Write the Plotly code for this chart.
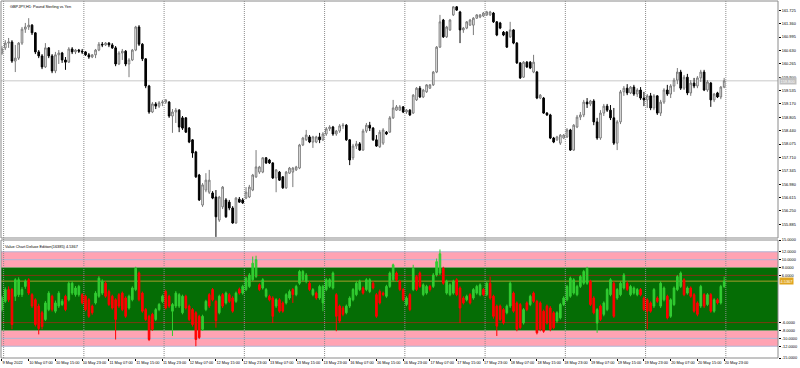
import plotly.graph_objects as go

# ---------------- main price data (GBPJPY H1) ----------------
open_ = [
160.56,160.70,160.83,160.86,160.34,160.42,160.83,161.21,161.27,161.32,
161.11,160.59,160.48,160.18,160.70,160.48,160.07,160.51,160.56,160.37,
160.31,160.67,160.59,160.64,160.61,160.59,160.51,160.45,160.51,160.64,
160.80,160.78,160.83,160.78,160.70,160.26,160.56,160.61,160.26,160.37,
160.64,161.27,160.80,160.40,159.66,158.95,159.17,159.11,159.20,159.22,
159.22,158.84,158.95,159.00,158.79,158.79,158.51,158.19,157.86,157.23,
156.41,156.82,156.76,156.74,156.63,156.00,156.36,156.55,156.49,156.33,
155.92,156.57,156.55,156.60,156.63,156.82,157.18,157.31,157.31,157.70,
157.64,157.56,157.15,157.31,157.18,156.88,157.28,157.31,157.37,157.42,
158.05,158.19,158.27,158.13,158.13,158.27,158.19,158.35,158.49,158.54,
158.35,158.43,158.57,158.59,158.19,157.70,158.02,158.08,157.91,158.43,
158.59,158.51,158.19,158.00,158.10,158.40,158.40,158.79,159.00,159.00,
159.09,158.95,159.00,158.92,159.28,159.60,159.36,159.50,159.60,159.69,
160.04,160.72,161.46,161.00,161.19,161.60,161.82,161.68,161.19,161.24,
161.32,161.32,161.51,161.54,161.57,161.60,161.60,161.65,161.41,161.38,
161.13,161.13,161.00,161.19,160.83,160.29,159.90,160.31,160.31,160.04,
160.04,159.33,159.33,158.92,158.87,158.24,158.19,158.10,158.24,158.27,
158.46,157.91,158.54,158.81,158.87,159.22,159.17,159.25,158.68,158.24,
158.92,159.11,159.00,158.79,158.10,158.68,159.50,159.60,159.47,159.63,
159.44,159.55,159.33,159.28,159.39,159.06,159.39,158.92,159.22,159.55,
159.44,159.66,159.82,160.04,159.60,159.90,159.47,159.74,159.66,159.88,
160.04,159.55,159.74,159.28,159.47,159.36,159.63]
high = [
160.75,160.91,160.97,160.91,160.78,160.86,161.27,161.38,161.51,161.35,
161.13,160.64,160.53,160.83,160.72,160.53,160.59,160.64,160.59,160.45,
160.72,160.72,160.67,160.67,160.67,160.61,160.56,160.53,160.67,160.86,
160.86,160.86,160.86,160.83,160.75,160.61,160.67,160.64,160.42,160.67,
161.30,161.32,160.83,160.42,159.69,159.22,159.22,159.25,159.28,159.30,
159.25,159.03,159.06,159.03,158.84,158.81,158.54,158.21,157.89,157.26,
157.01,157.28,157.37,156.79,156.82,156.66,156.93,156.60,156.55,156.38,
156.63,156.63,156.60,156.90,156.96,157.26,157.91,157.48,157.72,157.72,
157.67,157.58,157.39,157.34,157.20,157.34,157.45,157.45,157.48,158.08,
158.27,158.46,158.32,158.30,158.30,158.38,158.40,158.54,158.59,158.57,
158.46,158.62,158.65,158.62,158.21,158.08,158.16,158.13,158.49,158.65,
158.68,158.54,158.32,158.46,158.51,158.43,158.84,159.28,159.14,159.14,
159.11,159.03,159.03,159.44,159.63,159.66,159.58,159.71,159.71,160.07,
160.75,161.60,161.49,161.30,161.49,161.84,161.84,161.71,161.27,161.43,
161.49,161.54,161.62,161.62,161.68,161.71,161.71,161.68,161.43,161.41,
161.16,161.16,161.41,161.21,160.86,160.31,160.34,160.34,160.34,160.51,
160.07,159.44,159.36,158.95,158.90,158.27,158.30,158.35,158.35,158.51,
158.49,158.62,158.87,158.95,159.28,159.33,159.28,159.30,158.79,159.00,
159.17,159.17,159.14,159.06,158.73,159.55,159.66,159.71,159.66,159.69,
159.60,159.63,159.50,159.44,159.47,159.44,159.41,159.28,159.60,159.69,
159.71,159.88,160.15,160.10,159.96,159.99,159.82,159.88,159.93,160.10,
160.10,159.82,159.77,159.47,159.50,159.66,159.88]
low = [
160.51,160.64,160.70,160.29,160.04,160.37,160.78,161.11,161.19,161.05,
160.53,160.42,160.12,160.15,160.42,160.01,160.01,160.26,160.29,160.10,
160.29,160.53,160.53,160.56,160.53,160.48,160.40,160.42,160.42,160.61,
160.72,160.75,160.72,160.67,160.20,160.23,160.37,160.20,159.90,160.34,
160.61,160.75,160.34,159.60,158.90,158.92,159.03,159.06,159.11,159.17,
158.79,158.38,158.65,158.40,158.46,158.38,158.10,157.70,157.15,156.52,
156.36,156.76,156.71,156.57,155.54,155.95,156.30,156.06,156.27,155.90,
155.90,156.47,156.44,156.57,156.60,156.79,157.15,157.26,157.28,157.53,
157.53,157.12,156.76,157.07,156.85,156.85,157.26,156.90,157.34,157.39,
158.02,158.16,158.10,157.97,158.10,158.10,158.16,158.30,158.43,158.30,
158.30,158.38,158.49,158.16,157.50,157.64,157.94,157.89,157.89,158.38,
158.43,158.16,158.00,157.97,158.05,158.32,158.38,158.76,158.98,158.98,
158.92,158.90,158.84,158.90,159.25,159.33,159.33,159.47,159.58,159.66,
160.01,160.70,160.97,160.97,161.16,161.57,161.71,160.83,161.11,161.21,
161.30,161.05,161.49,161.51,161.54,161.57,161.57,161.38,161.02,161.21,
161.02,160.70,160.97,160.80,160.26,159.85,159.88,160.15,160.12,160.01,
159.30,159.30,158.90,158.84,158.21,158.10,158.16,158.05,158.21,158.24,
157.89,157.89,158.51,158.73,158.81,159.06,159.11,158.59,158.19,158.19,
158.84,158.95,158.73,158.05,157.91,158.62,159.39,159.41,159.44,159.39,
159.36,159.28,159.11,159.06,159.00,159.00,158.87,158.84,159.17,159.39,
159.33,159.50,159.71,159.55,159.55,159.41,159.39,159.60,159.60,159.77,
159.52,159.50,159.09,159.22,159.33,159.30,159.60]
close = [
160.67,160.83,160.86,160.34,160.42,160.83,161.21,161.27,161.32,161.11,
160.59,160.48,160.18,160.70,160.48,160.07,160.51,160.56,160.37,160.31,
160.67,160.59,160.64,160.61,160.59,160.51,160.45,160.51,160.64,160.80,
160.78,160.83,160.78,160.70,160.26,160.56,160.61,160.26,160.37,160.64,
161.27,160.80,160.40,159.66,158.95,159.17,159.11,159.20,159.22,159.28,
158.84,158.95,159.00,158.54,158.51,158.40,158.13,157.83,157.18,156.55,
156.96,157.09,157.09,156.60,156.09,156.63,156.90,156.09,156.33,155.92,
156.60,156.49,156.47,156.76,156.90,157.23,157.45,157.45,157.70,157.56,
157.56,157.15,157.37,157.09,156.88,157.31,157.42,157.42,157.45,158.05,
158.24,158.32,158.13,158.27,158.27,158.19,158.35,158.49,158.54,158.35,
158.43,158.57,158.59,158.19,157.64,158.02,158.08,157.91,158.43,158.59,
158.51,158.19,158.02,158.40,158.46,158.35,158.79,159.06,159.09,159.09,
158.95,159.00,158.87,159.41,159.60,159.36,159.55,159.69,159.69,160.04,
160.72,161.41,161.00,161.27,161.46,161.82,161.73,161.19,161.24,161.41,
161.46,161.51,161.60,161.60,161.65,161.68,161.68,161.41,161.05,161.24,
161.05,160.72,161.19,160.83,160.29,159.88,160.31,160.18,160.15,160.31,
159.33,159.41,158.92,158.87,158.24,158.13,158.27,158.32,158.32,158.46,
157.91,158.59,158.81,158.87,159.22,159.17,159.25,158.68,158.24,158.92,
159.11,159.00,158.79,158.10,158.68,159.50,159.60,159.47,159.63,159.44,
159.55,159.33,159.28,159.39,159.06,159.39,158.92,159.22,159.55,159.44,
159.66,159.82,160.04,159.60,159.90,159.47,159.74,159.66,159.88,160.04,
159.55,159.77,159.28,159.44,159.36,159.63,159.80]

# ---------------- Value Chart Deluxe Edition data ----------------
vc_open = [
-2.7,-0.6,2.4,2.4,0.7,1.1,1.1,3.2,4.9,1.1,
-0.2,-1.8,-3.5,-5.2,-2.7,0.7,-3.1,-1.8,-1.4,0.7,
-0.2,1.5,1.1,1.1,1.1,0.7,-0.2,-1.8,-1.0,0.7,
1.5,4.0,1.9,0.7,-0.2,1.1,1.5,0.25,-2.3,-0.2,
2.4,6.6,1.5,-2.7,-4.4,-3.9,-5.2,-2.7,-0.6,1.9,
0.7,-3.1,-1.8,-1.8,-3.5,0.7,-1.8,-2.7,-3.5,-4.4,
-7.7,-2.7,1.1,2.4,-0.6,-3.5,1.1,-1.0,1.1,0.25,
-0.6,2.5,1.5,2.4,3.2,4.9,5.7,3.6,2.8,0.7,
0.7,0.25,-1.8,-0.2,-1.0,-1.0,0.25,2.4,1.1,4.0,
4.9,4.5,4.0,1.1,1.5,0.25,-1.0,2.4,3.2,2.8,
1.1,-1.8,-2.3,-3.5,-1.8,-0.2,1.1,2.4,2.8,2.4,
1.9,4.0,1.1,1.9,1.5,0.7,3.2,4.9,6.6,4.5,
2.4,-1.4,1.1,2.4,5.7,6.6,1.1,1.5,3.2,3.2,
6.1,6.6,7.8,1.5,1.1,1.5,4.9,2.8,0.25,-0.2,
1.1,0.25,1.5,1.1,2.4,1.1,4.0,0.7,-1.8,-1.8,
-2.7,-3.5,-1.8,1.5,-1.0,-1.4,-6.1,-1.0,-1.4,1.5,
-0.6,-1.0,-3.1,-1.8,-2.3,-3.5,-5.6,-4.8,-1.4,-0.2,
0.7,1.5,1.1,3.2,4.0,4.0,4.5,0.25,-6.1,-1.8,
-3.9,-2.7,1.1,4.0,0.25,1.1,2.8,4.0,1.1,1.5,
1.1,2.4,0.25,-0.2,-1.0,-1.8,0.25,-1.8,-0.2,0.7,
-4.4,-1.4,2.4,3.2,4.9,1.5,2.8,1.1,-1.0,-1.8,
1.1,-1.4,1.1,-3.1,-0.2,-1.0,3.2]
vc_high = [
0.8,3.0,3.2,2.8,5.3,5.5,3.0,5.0,5.3,1.5,
0.2,-1.2,-3.0,-0.5,2.0,1.1,-0.4,2.0,0.0,1.1,
4.5,4.5,3.3,3.6,1.5,1.1,0.2,-1.4,2.0,5.8,
5.0,4.5,2.4,1.1,0.2,1.5,1.9,0.7,1.1,3.2,
8.2,7.0,1.9,-2.3,-4.0,-3.5,-2.3,-1.0,1.1,2.4,
1.1,-1.0,2.0,1.5,1.1,1.1,-1.4,-2.3,-3.1,-4.0,
-4.0,-0.2,1.5,2.8,-0.2,1.1,1.5,1.9,1.5,0.7,
1.9,2.9,3.6,5.7,6.6,10.8,11.0,4.0,5.3,2.8,
1.1,0.7,0.2,0.2,-0.6,1.5,2.4,2.8,3.6,7.4,
7.4,6.6,4.5,2.8,1.9,3.6,3.6,5.3,5.3,7.0,
1.5,-1.4,-1.8,-1.4,0.7,2.8,4.5,4.9,3.2,5.3,
5.3,4.5,1.5,2.4,1.9,3.6,7.0,9.0,7.0,4.9,
2.8,0.7,1.5,8.7,6.1,7.0,4.0,3.6,3.6,6.6,
10.3,12.6,8.2,4.9,4.0,4.9,5.3,3.2,0.7,1.1,
1.5,2.8,3.6,4.0,2.8,4.5,5.7,1.1,-1.4,-1.4,
-2.3,-1.4,4.5,1.9,-0.6,-1.0,-2.3,-0.6,1.1,1.9,
-0.2,-0.6,-2.7,-1.4,-1.8,-3.1,-3.1,-1.0,0.7,3.6,
5.7,5.3,3.6,6.1,7.4,8.2,4.9,0.7,-2.3,-1.4,
-0.6,2.8,5.3,4.5,2.8,4.5,6.6,4.5,3.6,3.2,
2.8,2.8,0.7,0.2,-0.6,2.8,0.7,4.5,3.2,1.1,
0.2,3.2,6.1,7.0,5.3,3.2,3.2,1.5,-0.6,3.6,
1.5,1.5,1.5,0.2,0.2,3.6,5.7]
vc_low = [
-3.2,-1.0,-0.8,-7.7,-0.5,0.5,0.5,2.6,1.0,-2.3,
-7.0,-9.0,-7.7,-5.6,-3.1,-3.2,-3.6,-2.3,-1.8,-3.1,
-0.6,1.0,0.6,0.6,-1.4,-3.1,-4.8,-4.0,-1.4,0.3,
1.0,0.3,-1.8,-2.7,-10.3,-2.3,-3.1,-4.8,-2.7,-0.6,
2.0,-0.6,-3.5,-5.6,-10.7,-8.1,-5.6,-3.1,-1.0,-2.7,
-2.3,-9.4,-2.3,-2.3,-3.9,-2.7,-5.6,-7.0,-12.0,-10.2,
-8.1,-3.1,-2.3,-0.6,-7.3,-3.9,-2.3,-1.4,-1.0,-3.5,
-1.0,1.1,1.1,2.0,2.8,4.5,5.3,2.0,2.4,0.3,
-0.6,-6.1,-2.3,-3.5,-3.5,-1.4,-0.2,-1.0,0.7,3.6,
4.5,4.0,2.0,0.7,-0.2,-0.2,-3.1,2.0,2.8,2.4,
-8.2,-6.1,-4.4,-3.9,-2.3,-0.6,0.7,2.0,1.1,2.0,
1.5,2.4,-4.8,-1.4,0.7,0.3,2.8,4.5,4.5,2.0,
-0.6,-1.8,-3.1,2.0,2.0,2.8,0.7,1.1,1.9,2.8,
5.7,6.1,3.6,1.1,0.7,1.1,0.7,-6.1,-1.4,-0.6,
-1.4,-0.2,1.1,0.7,0.7,0.7,-0.2,-5.0,-9.4,-5.6,
-6.5,-3.9,-2.3,-3.5,-8.2,-7.7,-6.5,-3.1,-1.8,-1.0,
-9.0,-8.2,-8.6,-6.5,-8.2,-7.7,-6.1,-5.2,-1.8,-0.6,
0.3,1.1,0.7,2.8,3.6,3.6,-1.8,-3.9,-8.6,-5.6,
-4.4,-3.1,0.7,-4.8,-0.2,0.7,2.4,2.0,0.7,1.1,
0.7,0.7,-3.1,-7.7,-3.5,-2.3,-1.0,-2.3,-0.6,-5.2,
-4.8,-1.8,2.0,2.8,0.7,1.1,0.3,-3.5,-4.4,-2.3,
-2.3,-1.8,-3.5,-3.5,-1.4,-1.4,2.8]
vc_close = [
0.3,2.4,-0.2,-6.5,4.9,4.9,2.4,4.5,1.5,-1.8,
-6.5,-7.5,-7.0,-1.0,1.5,-2.7,-1.0,1.5,-0.6,-2.7,
4.0,4.0,2.8,3.2,-1.0,-2.7,-4.4,-3.5,1.5,5.3,
4.5,0.7,-1.4,-2.3,-5.2,-1.8,-2.7,-4.4,0.7,2.8,
7.8,-0.2,-3.1,-5.2,-10.3,-7.7,-2.7,-1.4,0.7,-2.3,
-1.8,-1.4,1.5,1.1,0.7,-2.3,-5.2,-6.5,-10.3,-9.8,
-4.4,-0.6,-1.8,-0.2,-5.5,0.7,-1.8,1.5,-0.6,-3.1,
1.5,1.5,3.2,5.3,6.1,9.1,10.0,2.4,4.9,2.4,
-0.2,-4.4,-0.2,-3.1,-3.1,1.1,1.9,1.1,3.2,7.0,
7.0,6.1,2.4,2.4,0.25,3.2,3.2,4.9,4.9,6.6,
-4.4,-5.6,-3.9,-1.8,0.25,2.4,4.0,4.5,1.5,4.9,
4.9,2.8,-4.4,-1.0,1.1,3.2,6.6,8.7,4.9,2.4,
-0.2,0.25,-2.7,7.8,2.4,3.2,3.6,3.2,2.4,6.1,
9.5,11.5,4.0,4.5,3.6,4.5,1.1,-2.3,-1.0,0.7,
-1.0,2.4,3.2,3.6,1.1,4.0,0.25,-4.4,-6.9,-5.2,
-6.1,-1.8,4.0,-3.1,-7.7,-7.3,-2.7,-2.7,0.7,-0.6,
-8.6,-7.7,-8.2,-6.1,-7.7,-7.3,-3.5,-1.4,0.25,3.2,
5.3,4.9,3.2,5.7,7.0,7.8,-1.4,-3.5,-2.7,-5.2,
-1.0,2.4,4.9,-4.4,2.4,4.0,6.1,2.4,3.2,2.8,
2.4,1.1,-2.7,-3.1,-3.1,2.4,-0.6,4.0,2.8,-4.8,
-0.2,2.8,5.7,6.6,1.1,2.8,0.7,-3.1,-3.9,3.2,
-1.8,1.1,-3.1,-0.2,-1.0,3.2,4.5367]

# ---------------- axis labels ----------------
time_labels = ["9 May 2022",
 "10 May 07:00","10 May 15:00","10 May 23:00",
 "11 May 07:00","11 May 15:00","11 May 23:00",
 "12 May 07:00","12 May 15:00","12 May 23:00",
 "13 May 07:00","13 May 15:00","13 May 23:00",
 "16 May 07:00","16 May 15:00","16 May 23:00",
 "17 May 07:00","17 May 15:00","17 May 23:00",
 "18 May 07:00","18 May 15:00","18 May 23:00",
 "19 May 07:00","19 May 15:00","19 May 23:00",
 "20 May 07:00","20 May 15:00","20 May 23:00"]
time_label_bars = [0,8,16,24,32,40,48,56,64,72,80,88,96,104,112,120,128,136,144,
                   152,160,168,176,184,192,200,208,216]
day_separator_bars = [0.5,24.5,48.5,72.5,96.5,120.5,144.5,168.5,192.5,216.5]
price_ticks = [161.725,161.360,160.995,160.630,160.265,159.900,159.535,159.170,
               158.805,158.440,158.075,157.710,157.345,156.980,156.615,156.250,155.885]
vc_ticks = [15,12,10,8,6,-6,-8,-10,-12,-15]
vc_band_outer = 12
vc_band_mid = 10
vc_band_inner = 8
vc_level = 6

title_text = "GBPJPY,H1: Pound Sterling vs Yen"
vc_title = "Value Chart Deluxe Edition(16385) 4.5367"

FONT = "Liberation Sans"
FS = 3.9
bars = list(range(len(close)))

fig = go.Figure()
fig.add_trace(go.Candlestick(
    x=bars, open=open_, high=high, low=low, close=close,
    xaxis="x", yaxis="y",
    increasing=dict(line=dict(color="#7a7a7a", width=1), fillcolor="#ffffff"),
    decreasing=dict(line=dict(color="#000000", width=1), fillcolor="#000000"),
    whiskerwidth=0, hoverinfo="skip"))
fig.add_trace(go.Candlestick(
    x=bars, open=vc_open, high=vc_high, low=vc_low, close=vc_close,
    xaxis="x", yaxis="y2",
    increasing=dict(line=dict(color="#32CD32", width=1), fillcolor="#32CD32"),
    decreasing=dict(line=dict(color="#FF0000", width=1), fillcolor="#FF0000"),
    whiskerwidth=0, hoverinfo="skip"))

shapes = []
pink = "#FFA3B3"
dgreen = "#056D05"
shapes.append(dict(type="rect", xref="paper", yref="y2", x0=0, x1=1, y0=vc_band_inner, y1=vc_band_outer,
                   fillcolor=pink, line=dict(width=0), layer="below"))
shapes.append(dict(type="rect", xref="paper", yref="y2", x0=0, x1=1, y0=-vc_band_outer, y1=-vc_band_inner,
                   fillcolor=pink, line=dict(width=0), layer="below"))
shapes.append(dict(type="rect", xref="paper", yref="y2", x0=0, x1=1, y0=-vc_band_inner, y1=vc_band_inner,
                   fillcolor=dgreen, line=dict(width=0), layer="below"))
for lv in [vc_band_outer, vc_band_mid, -vc_band_mid, -vc_band_outer]:
    shapes.append(dict(type="line", xref="paper", yref="y2", x0=0, x1=1, y0=lv, y1=lv,
                       line=dict(color="#AEB6D6", width=1), layer="below"))
for lv in [vc_level, -vc_level]:
    shapes.append(dict(type="line", xref="paper", yref="y2", x0=0, x1=1, y0=lv, y1=lv,
                       line=dict(color="#7B3A12", width=1), layer="below"))
shapes.append(dict(type="line", xref="paper", yref="y2", x0=0, x1=1, y0=vc_close[-1], y1=vc_close[-1],
                   line=dict(color="#A69A2A", width=1), layer="below"))
shapes.append(dict(type="line", xref="paper", yref="y", x0=0, x1=1, y0=close[-1], y1=close[-1],
                   line=dict(color="#C8C8C8", width=1), layer="below"))
for b in day_separator_bars:
    shapes.append(dict(type="line", xref="x", yref="paper", x0=b, x1=b, y0=0, y1=1,
                       line=dict(color="#8c8c8c", width=1, dash="1px,1px"), layer="below"))
for yr in ["y domain", "y2 domain"]:
    shapes.append(dict(type="rect", xref="paper", yref=yr, x0=0, x1=1, y0=0, y1=1,
                       line=dict(color="#8a8a8a", width=1), fillcolor="rgba(0,0,0,0)", layer="above"))

annotations = [
    dict(xref="paper", yref="paper", x=0, y=1, xanchor="left", yanchor="top", xshift=7, yshift=-2,
         text=title_text, showarrow=False, font=dict(family=FONT, size=FS, color="#000")),
    dict(xref="paper", yref="y2 domain", x=0, y=1, xanchor="left", yanchor="top", xshift=2, yshift=-2,
         text=vc_title, showarrow=False, font=dict(family=FONT, size=FS, color="#000")),
    dict(xref="paper", yref="y", x=1, y=close[-1], xanchor="left", yanchor="middle", xshift=1,
         text=f"{close[-1]:.3f}", showarrow=False, bgcolor="#C0C0C0", borderpad=0.5,
         font=dict(family=FONT, size=FS, color="#ffffff")),
    dict(xref="paper", yref="y2", x=1, y=vc_close[-1], xanchor="left", yanchor="middle", xshift=1,
         text=f"{vc_close[-1]:.4f}", showarrow=False, bgcolor="#E0A520", borderpad=0.5,
         font=dict(family=FONT, size=FS, color="#ffffff")),
]

fig.update_layout(
    width=800, height=368,
    margin=dict(l=1, r=22, t=0, b=10, autoexpand=False),
    paper_bgcolor="white", plot_bgcolor="white",
    showlegend=False, hovermode=False,
    shapes=shapes, annotations=annotations,
    xaxis=dict(domain=[0, 1], anchor="y2", range=[-0.28, 232.1],
               tickvals=time_label_bars, ticktext=time_labels, tickangle=0,
               ticks="outside", ticklen=2, tickcolor="#000", tickwidth=1,
               ticklabelposition="outside right", automargin=False,
               tickfont=dict(family=FONT, size=FS, color="#000"),
               showgrid=False, zeroline=False, showline=False,
               rangeslider=dict(visible=False), fixedrange=True),
    yaxis=dict(domain=[0.3352, 0.9972], anchor="x", side="right",
               range=[155.511, 161.979], automargin=False,
               tickvals=price_ticks, ticktext=[f"{v:.3f}" for v in price_ticks],
               ticks="outside", ticklen=2, tickcolor="#000",
               tickfont=dict(family=FONT, size=FS, color="#000"),
               showgrid=False, zeroline=False, showline=False),
    yaxis2=dict(domain=[0, 0.3296], anchor="x", side="right",
                range=[-15, 15], automargin=False,
                tickvals=vc_ticks, ticktext=[f"{v:.4f}" for v in vc_ticks],
                ticks="outside", ticklen=2, tickcolor="#000",
                tickfont=dict(family=FONT, size=FS, color="#000"),
                showgrid=False, zeroline=False, showline=False),
)

fig.write_html("out.html", config={"displayModeBar": False, "staticPlot": True},
               post_script="document.body.style.margin='0';document.body.style.padding='0';document.body.style.overflow='hidden';")
